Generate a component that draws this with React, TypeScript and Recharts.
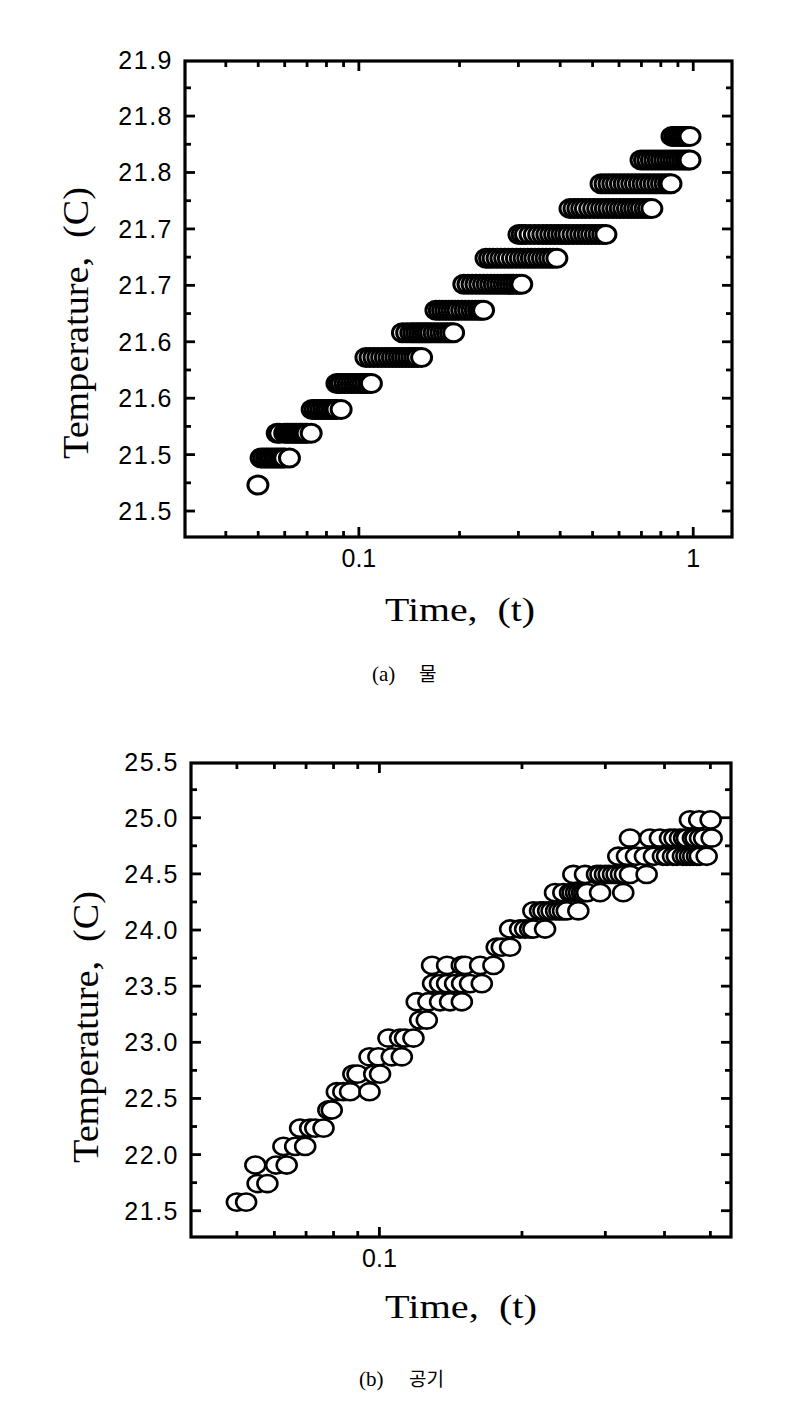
import { ScatterChart, Scatter, XAxis, YAxis } from "recharts";

// (a) water: temperature steps (sensor levels) and the times logged at each level
const waterLevels = [
  21.523, 21.547, 21.569, 21.59, 21.613, 21.636, 21.658, 21.678, 21.701, 21.724, 21.745, 21.768, 21.79,
  21.811, 21.832,
];
const waterTimes: number[][] = [
  [0.0499],
  [0.051, 0.052, 0.053, 0.054, 0.055, 0.056, 0.057, 0.058, 0.059, 0.06, 0.062],
  [0.057, 0.058, 0.06, 0.061, 0.062, 0.063, 0.064, 0.065, 0.066, 0.067, 0.068, 0.069, 0.07, 0.072],
  [0.0725, 0.074, 0.0755, 0.077, 0.0785, 0.08, 0.0815, 0.083, 0.0845, 0.086, 0.0885],
  [0.086, 0.0875, 0.089, 0.091, 0.093, 0.095, 0.097, 0.099, 0.101, 0.103, 0.105, 0.107, 0.109],
  [0.105, 0.108, 0.111, 0.114, 0.117, 0.12, 0.123, 0.126, 0.129, 0.132, 0.135, 0.138, 0.141, 0.144, 0.147, 0.15, 0.154],
  [0.135, 0.139, 0.143, 0.146, 0.149, 0.152, 0.155, 0.158, 0.161, 0.164, 0.168, 0.172, 0.176, 0.18, 0.184, 0.188, 0.192],
  [0.17, 0.174, 0.178, 0.182, 0.186, 0.19, 0.194, 0.198, 0.203, 0.208, 0.213, 0.218, 0.223, 0.228, 0.232, 0.236],
  [0.206, 0.212, 0.218, 0.224, 0.23, 0.236, 0.242, 0.248, 0.254, 0.26, 0.266, 0.272, 0.278, 0.284, 0.29, 0.296, 0.302, 0.307],
  [0.24, 0.246, 0.252, 0.259, 0.266, 0.273, 0.28, 0.288, 0.296, 0.304, 0.312, 0.32, 0.328, 0.336, 0.345, 0.354, 0.363, 0.372, 0.381, 0.391],
  [0.301, 0.308, 0.315, 0.325, 0.335, 0.345, 0.355, 0.365, 0.375, 0.385, 0.395, 0.405, 0.415, 0.425, 0.437, 0.449, 0.461, 0.473, 0.485, 0.497, 0.51, 0.523, 0.536, 0.548],
  [0.428, 0.44, 0.452, 0.464, 0.476, 0.49, 0.504, 0.518, 0.532, 0.546, 0.56, 0.575, 0.59, 0.605, 0.62, 0.636, 0.652, 0.668, 0.684, 0.7, 0.718, 0.735, 0.752],
  [0.53, 0.545, 0.56, 0.575, 0.59, 0.606, 0.622, 0.638, 0.655, 0.672, 0.69, 0.708, 0.726, 0.745, 0.764, 0.784, 0.804, 0.824, 0.844, 0.858],
  [0.698, 0.715, 0.732, 0.75, 0.768, 0.786, 0.804, 0.822, 0.84, 0.858, 0.876, 0.894, 0.912, 0.93, 0.948, 0.965, 0.978],
  [0.864, 0.88, 0.896, 0.912, 0.928, 0.944, 0.96, 0.978],
];

// (b) air
const airLevels = [
  21.577, 21.742, 21.907, 22.073, 22.236, 22.397, 22.56, 22.717, 22.871, 23.038, 23.198, 23.361, 23.523,
  23.685, 23.847, 24.009, 24.171, 24.333, 24.495, 24.657, 24.819, 24.981,
];
const airTimes: number[][] = [
  [0.05, 0.0523],
  [0.0553, 0.058],
  [0.0547, 0.0605, 0.0637],
  [0.0627, 0.0664, 0.0697],
  [0.068, 0.0714, 0.0732, 0.0762],
  [0.078, 0.0793],
  [0.0813, 0.0839, 0.0867, 0.0953],
  [0.0881, 0.0899, 0.0975, 0.1003],
  [0.0953, 0.0995, 0.1062, 0.1115],
  [0.1045, 0.1106, 0.1133, 0.118],
  [0.1219, 0.1259],
  [0.1199, 0.1269, 0.1343, 0.141, 0.1493],
  [0.1298, 0.1343, 0.139, 0.1445, 0.1495, 0.1554, 0.1645],
  [0.1292, 0.139, 0.1493, 0.1517, 0.1632, 0.1741],
  [0.1769, 0.1813, 0.1888],
  [0.1888, 0.1982, 0.2031, 0.2081, 0.2114, 0.2238],
  [0.2114, 0.2184, 0.222, 0.2271, 0.231, 0.2361, 0.24, 0.2442, 0.2487, 0.2631],
  [0.2349, 0.2446, 0.2527, 0.256, 0.2602, 0.264, 0.2679, 0.271, 0.2745, 0.2924, 0.3273],
  [0.2568, 0.2718, 0.2881, 0.293, 0.2995, 0.305, 0.3114, 0.317, 0.3237, 0.33, 0.3382, 0.3667],
  [0.3195, 0.3333, 0.3482, 0.3637, 0.38, 0.397, 0.405, 0.4169, 0.425, 0.4375, 0.445, 0.4527, 0.46, 0.4684, 0.475, 0.491],
  [0.3382, 0.3727, 0.3912, 0.4108, 0.42, 0.4312, 0.44, 0.4461, 0.4593, 0.465, 0.4753, 0.485, 0.503],
  [0.4527, 0.4736, 0.5006],
];

const waterXMajor = [0.1, 1];
const waterXLabels = ["0.1", "1"];
const waterXMinor = [0.04, 0.05, 0.06, 0.07, 0.08, 0.09, 0.2, 0.3, 0.4, 0.5, 0.6, 0.7, 0.8, 0.9];
const waterYMajor = [21.5, 21.55, 21.6, 21.65, 21.7, 21.75, 21.8, 21.85, 21.9];
const waterYLabels = ["21.5", "21.5", "21.6", "21.6", "21.7", "21.7", "21.8", "21.8", "21.9"];
const waterYMinor = [21.525, 21.575, 21.625, 21.675, 21.725, 21.775, 21.825, 21.875];

const airXMajor = [0.1];
const airXLabels = ["0.1"];
const airXMinor = [0.05, 0.06, 0.07, 0.08, 0.09, 0.2, 0.3, 0.4, 0.5];
const airYMajor = [21.5, 22.0, 22.5, 23.0, 23.5, 24.0, 24.5, 25.0, 25.5];
const airYLabels = ["21.5", "22.0", "22.5", "23.0", "23.5", "24.0", "24.5", "25.0", "25.5"];
const airYMinor = [21.75, 22.25, 22.75, 23.25, 23.75, 24.25, 24.75, 25.25];

const waterXDomain = [0.0302, 1.306];
const waterYDomain = [21.477, 21.8988];
const airXDomain = [0.04, 0.5527];
const airYDomain = [21.266, 25.4875];

const toPoints = (levels: number[], times: number[][]) =>
  times
    .flatMap((row, i) => row.map((t) => ({ t, v: levels[i] })))
    .sort((a, b) => a.t - b.t);

const waterData = toPoints(waterLevels, waterTimes);
const airData = toPoints(airLevels, airTimes);

const SANS = "'Liberation Sans', Arial, sans-serif";
const SERIF = "'Liberation Serif', 'Times New Roman', serif";
const KR = "'Noto Sans CJK KR', sans-serif";

const findIdx = (list: number[], v: number) => list.findIndex((m) => Math.abs(m - v) < 1e-9);

function makeXLabel(major: number[], labels: string[]) {
  return (props: any) => {
    const idx = findIdx(major, props.payload.value);
    if (idx < 0) return <g />;
    return (
      <text x={props.x} y={props.y + 30} textAnchor="middle" fontSize={25} fontFamily={SANS} fill="#000">
        {labels[idx]}
      </text>
    );
  };
}

function makeYLabel(major: number[], labels: string[]) {
  return (props: any) => {
    const idx = findIdx(major, props.payload.value);
    if (idx < 0) return <g />;
    return (
      <text
        x={props.x - 12}
        y={props.y}
        dy="0.36em"
        textAnchor="end"
        fontSize={25}
        letterSpacing={1.5}
        fontFamily={SANS}
        fill="#000"
      >
        {labels[idx]}
      </text>
    );
  };
}

// inward tick marks, placed on the frame edges through the chart's own scales
type Side = "bottom" | "top" | "left" | "right";
function tickMarks(side: Side, xDomain: number[], yDomain: number[], values: number[]) {
  if (side === "bottom") return values.map((t) => ({ t, v: yDomain[0] }));
  if (side === "top") return values.map((t) => ({ t, v: yDomain[1] }));
  if (side === "left") return values.map((v) => ({ t: xDomain[0], v }));
  return values.map((v) => ({ t: xDomain[1], v }));
}

function makeTickShape(side: Side, major: number[]) {
  return (p: any) => {
    const val = side === "bottom" || side === "top" ? p.payload.t : p.payload.v;
    const len = findIdx(major, val) >= 0 ? 10 : 6;
    const { cx, cy } = p;
    let d = "";
    if (side === "bottom") d = `M${cx},${cy}V${cy - len}`;
    else if (side === "top") d = `M${cx},${cy}V${cy + len}`;
    else if (side === "left") d = `M${cx},${cy}H${cx + len}`;
    else d = `M${cx},${cy}H${cx - len}`;
    return <path d={d} stroke="#000" strokeWidth={2.8} fill="none" />;
  };
}

function tickSeries(xDomain: number[], yDomain: number[], xMajor: number[], xMinor: number[], yMajor: number[], yMinor: number[]) {
  const sides: Side[] = ["bottom", "top", "left", "right"];
  return sides.map((side) => {
    const horizontal = side === "bottom" || side === "top";
    const values = horizontal ? [...xMinor, ...xMajor] : [...yMinor, ...yMajor];
    return (
      <Scatter
        key={side}
        data={tickMarks(side, xDomain, yDomain, values)}
        shape={makeTickShape(side, horizontal ? xMajor : yMajor)}
        isAnimationActive={false}
      />
    );
  });
}

const WaterDot = (p: any) => (
  <ellipse cx={p.cx} cy={p.cy} rx={10} ry={9} fill="#fff" stroke="#000" strokeWidth={3} />
);
const AirDot = (p: any) => (
  <ellipse cx={p.cx} cy={p.cy} rx={10} ry={8.6} fill="#fff" stroke="#000" strokeWidth={2.6} />
);

export default function App() {
  return (
    <div style={{ position: "absolute", left: 0, top: 0, width: 806, height: 1418, background: "#fff" }}>
      <div style={{ position: "absolute", left: 0, top: 0 }}>
        <ScatterChart width={806} height={700} margin={{ top: 61, right: 74, bottom: 123, left: 0 }}>
          <XAxis
            dataKey="t"
            type="number"
            scale="log"
            domain={waterXDomain}
            allowDataOverflow
            ticks={waterXMajor}
            interval={0}
            tickSize={0}
            tickMargin={0}
            tickLine={false}
            axisLine={false}
            height={40}
            tick={makeXLabel(waterXMajor, waterXLabels)}
          />
          <YAxis
            dataKey="v"
            type="number"
            domain={waterYDomain}
            allowDataOverflow
            ticks={waterYMajor}
            interval={0}
            tickSize={0}
            tickMargin={0}
            tickLine={false}
            axisLine={false}
            width={185}
            tick={makeYLabel(waterYMajor, waterYLabels)}
          />
          {tickSeries(waterXDomain, waterYDomain, waterXMajor, waterXMinor, waterYMajor, waterYMinor)}
          <Scatter data={waterData} shape={WaterDot} isAnimationActive={false} />
        </ScatterChart>
      </div>

      <div style={{ position: "absolute", left: 0, top: 700 }}>
        <ScatterChart width={806} height={718} margin={{ top: 63, right: 75, bottom: 141, left: 0 }}>
          <XAxis
            dataKey="t"
            type="number"
            scale="log"
            domain={airXDomain}
            allowDataOverflow
            ticks={airXMajor}
            interval={0}
            tickSize={0}
            tickMargin={0}
            tickLine={false}
            axisLine={false}
            height={40}
            tick={makeXLabel(airXMajor, airXLabels)}
          />
          <YAxis
            dataKey="v"
            type="number"
            domain={airYDomain}
            allowDataOverflow
            ticks={airYMajor}
            interval={0}
            tickSize={0}
            tickMargin={0}
            tickLine={false}
            axisLine={false}
            width={191}
            tick={makeYLabel(airYMajor, airYLabels)}
          />
          {tickSeries(airXDomain, airYDomain, airXMajor, airXMinor, airYMajor, airYMinor)}
          <Scatter data={airData} shape={AirDot} isAnimationActive={false} />
        </ScatterChart>
      </div>

      {/* plot frames, axis titles and captions */}
      <svg
        width={806}
        height={1418}
        style={{ position: "absolute", left: 0, top: 0, pointerEvents: "none" }}
      >
        <rect x={185} y={61} width={547} height={476} fill="none" stroke="#000" strokeWidth={3.2} />
        <rect x={191} y={763} width={540} height={474} fill="none" stroke="#000" strokeWidth={3.2} />

        <text
          transform="translate(77,323) rotate(-90)"
          textAnchor="middle"
          dy="0.3em"
          fontSize={36}
          fontFamily={SERIF}
          textLength={272}
          lengthAdjust="spacingAndGlyphs"
          style={{ whiteSpace: "pre" }}
        >
          {"Temperature,  (C)"}
        </text>
        <text
          x={460}
          y={621}
          textAnchor="middle"
          fontSize={34}
          fontFamily={SERIF}
          textLength={150}
          lengthAdjust="spacingAndGlyphs"
          style={{ whiteSpace: "pre" }}
        >
          {"Time,  (t)"}
        </text>
        <text x={372} y={681} fontSize={21} fontFamily={SERIF}>
          (a)
        </text>
        <text x={419} y={681} fontSize={19} fontFamily={KR}>
          물
        </text>

        <text
          transform="translate(87,1027) rotate(-90)"
          textAnchor="middle"
          dy="0.3em"
          fontSize={36}
          fontFamily={SERIF}
          textLength={272}
          lengthAdjust="spacingAndGlyphs"
          style={{ whiteSpace: "pre" }}
        >
          {"Temperature,  (C)"}
        </text>
        <text
          x={461}
          y={1318}
          textAnchor="middle"
          fontSize={34}
          fontFamily={SERIF}
          textLength={152}
          lengthAdjust="spacingAndGlyphs"
          style={{ whiteSpace: "pre" }}
        >
          {"Time,  (t)"}
        </text>
        <text x={359} y={1386} fontSize={21} fontFamily={SERIF}>
          (b)
        </text>
        <text x={409} y={1386} fontSize={19} fontFamily={KR}>
          공기
        </text>
      </svg>
    </div>
  );
}
